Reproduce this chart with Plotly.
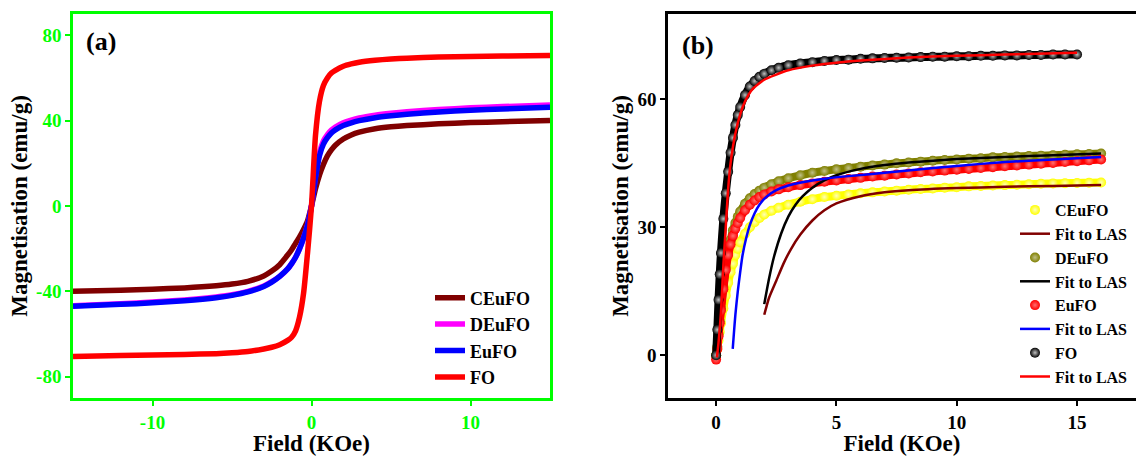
import plotly.graph_objects as go

FONT = "Liberation Serif, Times New Roman, serif"

# ---------------- (a) full M-H loops ----------------
H_a = [-15, -12, -10, -8, -6, -5, -4, -3, -2.5, -2, -1.5, -1.25, -1, -0.75, -0.5, -0.25,
       0, 0.25, 0.5, 0.75, 1, 1.25, 1.5, 2, 2.5, 3, 4, 5, 6, 8, 10, 12, 15]

M_CEuFO_a = [-40, -39.5, -39, -38.4, -37.4, -36.6, -35.3, -32.8, -30.5, -27.5, -23, -20.5,
             -17.5, -14.5, -11, -7, 0, 8, 14.5, 19.5, 23.5, 26.3, 28.5, 31.4, 33.3, 34.6,
             36.2, 37.1, 37.7, 38.5, 39.1, 39.5, 40.1]
M_DEuFO_a = [-46.8, -45.8, -45, -44, -42.6, -41.6, -40, -37.5, -35.5, -33, -29.5, -27, -24,
             -20, -15, -9, 0, 14, 25, 30.5, 33.5, 35.6, 37, 39, 40.3, 41.3, 42.6, 43.5, 44.2,
             45.2, 46, 46.6, 47.3]
M_EuFO_a = [-47, -46.1, -45.4, -44.4, -43, -41.9, -40.3, -37.7, -35.7, -33, -29.5, -27, -24,
            -20, -15, -9, 0, 13, 23.5, 29, 32, 34.2, 35.7, 37.7, 39, 40, 41.4, 42.3, 43, 44.1,
            44.9, 45.5, 46.3]
M_FO_a = [-70.5, -70.1, -69.9, -69.6, -69.2, -68.8, -68.2, -67, -66.2, -65, -63, -61.5, -58.5,
          -52, -41, -22, 0, 33, 49, 56.5, 60, 62.3, 63.6, 65.5, 66.6, 67.4, 68.3, 68.9, 69.3,
          69.8, 70.1, 70.3, 70.6]

SAMPLES_A = ["CEuFO", "DEuFO", "EuFO", "FO"]
COLORS_A = ["#800000", "#ff00ff", "#0000ff", "#ff0000"]
CURVES_A = [M_CEuFO_a, M_DEuFO_a, M_EuFO_a, M_FO_a]

TICKS_XA = [-10, 0, 10]
TICKS_YA = [-80, -40, 0, 40, 80]
TICKS_XB = [0, 5, 10, 15]
TICKS_YB = [0, 30, 60]

# ---------------- (b) first-quadrant data with LAS fits ----------------
H_b = [0, 0.05, 0.1, 0.15, 0.2, 0.3, 0.4, 0.5, 0.6, 0.7, 0.8, 0.9, 1.0, 1.2, 1.4, 1.6, 1.8,
       2.0, 2.3, 2.6, 3.0, 3.5, 4, 4.5, 5, 5.5, 6, 6.5, 7, 7.5, 8, 8.5, 9, 9.5, 10, 10.5, 11,
       11.5, 12, 12.5, 13, 13.5, 14, 14.5, 15, 15.5, 16]

M_CEuFO_b = [0, 1.5, 3.5, 5.5, 7.5, 11, 14, 17, 19.5, 21.5, 23.5, 25, 26.5, 28.5, 30, 31.2,
             32.2, 33, 33.9, 34.6, 35.3, 36, 36.6, 37.1, 37.4, 37.7, 38, 38.2, 38.4, 38.6,
             38.8, 39, 39.1, 39.3, 39.4, 39.6, 39.7, 39.8, 39.9, 40, 40.1, 40.2, 40.3, 40.35,
             40.4, 40.45, 40.5]
M_DEuFO_b = [0, 2, 5, 8, 11, 16, 20.5, 24, 27, 29.3, 31, 32.5, 33.7, 35.5, 36.8, 37.8, 38.6,
             39.3, 40.1, 40.8, 41.5, 42.2, 42.8, 43.2, 43.6, 43.9, 44.2, 44.5, 44.7, 45,
             45.2, 45.4, 45.6, 45.8, 45.9, 46.1, 46.2, 46.4, 46.5, 46.6, 46.7, 46.8, 46.9,
             47, 47.1, 47.2, 47.3]
M_EuFO_b = [-1, 1.5, 4.5, 7.5, 10.5, 15.5, 20, 23.5, 26, 28, 29.7, 31, 32.2, 34, 35.3, 36.3,
            37.1, 37.7, 38.4, 38.9, 39.4, 39.9, 40.3, 40.7, 41, 41.3, 41.6, 41.9, 42.1, 42.4,
            42.6, 42.9, 43.1, 43.3, 43.5, 43.7, 43.9, 44.1, 44.3, 44.5, 44.7, 44.9, 45.1,
            45.3, 45.5, 45.7, 45.9]
M_FO_b = [0, 6, 13, 19, 24, 32, 38, 43, 47.5, 51, 54, 56.3, 58.2, 61, 63, 64.3, 65.3, 66,
          66.8, 67.4, 68, 68.4, 68.7, 69, 69.2, 69.3, 69.5, 69.6, 69.7, 69.75, 69.8, 69.9,
          70, 70, 70.1, 70.1, 70.2, 70.2, 70.3, 70.3, 70.4, 70.4, 70.5, 70.5, 70.5]

H_fit_CEuFO = [2.0, 2.2, 2.5, 2.8, 3.1, 3.5, 4, 4.5, 5, 6, 7, 8, 10, 12, 14, 16]
M_fit_CEuFO = [9.5, 13.5, 17.5, 21.5, 24.8, 28.3, 31.6, 34, 35.6, 37.3, 38.2, 38.7, 39.2,
               39.5, 39.7, 39.9]
H_fit_DEuFO = [2.0, 2.2, 2.4, 2.7, 3.0, 3.3, 3.6, 4, 4.5, 5, 6, 7, 8, 10, 12, 14, 16]
M_fit_DEuFO = [12, 18, 23, 28.5, 32.5, 35.3, 37.3, 39.3, 41, 42.2, 43.7, 44.6, 45.2, 46,
               46.5, 46.9, 47.3]
H_fit_EuFO = [0.69, 0.75, 0.8, 0.9, 1.0, 1.1, 1.25, 1.4, 1.6, 1.8, 2.1, 2.5, 3, 3.7, 4.5,
              5.5, 7, 8.5, 10, 12, 14, 16]
M_fit_EuFO = [1.5, 6, 9.5, 15, 19.5, 23.5, 27.5, 30.5, 33.3, 35.3, 37.2, 38.7, 39.8, 40.7,
              41.4, 42, 42.8, 43.6, 44.4, 45.3, 45.9, 46.5]
H_fit_FO = [0.03, 0.1, 0.2, 0.3, 0.4, 0.5, 0.6, 0.8, 1.0, 1.2, 1.5, 2, 2.5, 3, 4, 5, 6, 8,
            10, 12, 15]
M_fit_FO = [-0.5, 3, 10, 21, 30, 39, 45, 52, 56.5, 59.5, 62.3, 64.6, 65.8, 66.8, 67.9, 68.6,
            69.1, 69.8, 70.2, 70.5, 70.9]

# name, data, marker colour, highlight colour, fit x, fit y, fit colour
SAMPLES_B = [
    ("CEuFO", M_CEuFO_b, "#ffff00", "#ffffb8", H_fit_CEuFO, M_fit_CEuFO, "#800000"),
    ("DEuFO", M_DEuFO_b, "#808000", "#c0c088", H_fit_DEuFO, M_fit_DEuFO, "#000000"),
    ("EuFO", M_EuFO_b, "#ff0000", "#ff7070", H_fit_EuFO, M_fit_EuFO, "#0000ff"),
    ("FO", M_FO_b, "#000000", "#c0c0c0", H_fit_FO, M_fit_FO, "#ff0000"),
]

fig = go.Figure()

for name, color, m in zip(SAMPLES_A, COLORS_A, CURVES_A):
    fig.add_trace(go.Scatter(
        x=H_a, y=m, mode="lines", name=name,
        line=dict(color=color, width=5.5, shape="spline", smoothing=0.6),
        xaxis="x", yaxis="y", legend="legend"))

# measured points first, fitted curves on top
for i, (name, m, col, hi, hx, hy, fcol) in enumerate(SAMPLES_B):
    n = len(m)
    fig.add_trace(go.Scatter(
        x=H_b[:n], y=m, mode="lines", showlegend=False, hoverinfo="skip",
        line=dict(color=col, width=8, shape="spline", smoothing=0.5),
        xaxis="x2", yaxis="y2"))
    fig.add_trace(go.Scatter(
        x=H_b[:n], y=m, mode="markers", name=name, legendrank=10 + 2 * i,
        marker=dict(size=10, color=col, line=dict(width=0),
                    gradient=dict(type="radial", color=hi)),
        xaxis="x2", yaxis="y2", legend="legend2"))

for i, (name, m, col, hi, hx, hy, fcol) in enumerate(SAMPLES_B):
    fig.add_trace(go.Scatter(
        x=hx, y=hy, mode="lines", name="Fit to LAS", legendrank=11 + 2 * i,
        line=dict(color=fcol, width=2.5, shape="spline", smoothing=0.6),
        xaxis="x2", yaxis="y2", legend="legend2"))

W, H = 1136, 456
y_dom = [1 - 398 / H, 1 - 14 / H]


def labels(vals):
    return [str(v) for v in vals]


green = "#00ff00"
tick_green = dict(family=FONT, size=19, color=green, weight="bold")
tick_black = dict(family=FONT, size=19, color="black", weight="bold")
title_font = dict(family=FONT, size=23, color="black", weight="bold")

common = dict(showgrid=False, zeroline=False, ticks="outside", tickwidth=2, ticklen=5,
              showline=True, linewidth=2.5)

fig.update_layout(
    width=W, height=H, margin=dict(l=0, r=0, t=0, b=0),
    paper_bgcolor="white", plot_bgcolor="white",
    font=dict(family=FONT, color="black"),
    xaxis=dict(domain=[73 / W, 550 / W], range=[-15, 15], tickvals=TICKS_XA,
               ticktext=labels(TICKS_XA), linecolor=green, mirror=True, tickcolor=green,
               tickfont=tick_green, anchor="y",
               title=dict(text="Field (KOe)", font=title_font, standoff=4), **common),
    yaxis=dict(domain=y_dom, range=[-90, 90], tickvals=TICKS_YA, ticktext=labels(TICKS_YA),
               linecolor=green, mirror=True, tickcolor=green, tickfont=tick_green,
               anchor="x",
               title=dict(text="Magnetisation (emu/g)", font=title_font, standoff=3),
               **common),
    xaxis2=dict(domain=[668 / W, 1.0], range=[-2, 17.45], tickvals=TICKS_XB,
                ticktext=labels(TICKS_XB), linecolor="black", mirror=True,
                tickcolor="black", tickfont=tick_black, anchor="y2",
                title=dict(text="Field (KOe)", font=title_font, standoff=4), **common),
    yaxis2=dict(domain=y_dom, range=[-10, 80], tickvals=TICKS_YB, ticktext=labels(TICKS_YB),
                linecolor="black", mirror=False, tickcolor="black", tickfont=tick_black,
                anchor="x2",
                title=dict(text="Magnetisation (emu/g)", font=title_font, standoff=3),
                **common),
    legend=dict(x=430 / W, y=1 - 279.5 / H, xanchor="left", yanchor="top",
                bgcolor="rgba(0,0,0,0)", borderwidth=0, traceorder="normal",
                font=dict(family=FONT, size=18, color="black", weight="bold")),
    legend2=dict(x=1015 / W, y=1 - 193 / H, xanchor="left", yanchor="top",
                 bgcolor="rgba(0,0,0,0)", borderwidth=0, traceorder="normal",
                 font=dict(family=FONT, size=16, color="black", weight="bold")),
    annotations=[
        dict(text="(a)", x=84 / W, y=1 - 42 / H, xref="paper", yref="paper",
             xanchor="left", yanchor="middle", showarrow=False,
             font=dict(family=FONT, size=26, color="black", weight="bold")),
        dict(text="(b)", x=680 / W, y=1 - 45 / H, xref="paper", yref="paper",
             xanchor="left", yanchor="middle", showarrow=False,
             font=dict(family=FONT, size=26, color="black", weight="bold")),
    ],
)

fig.write_html("out.html")
